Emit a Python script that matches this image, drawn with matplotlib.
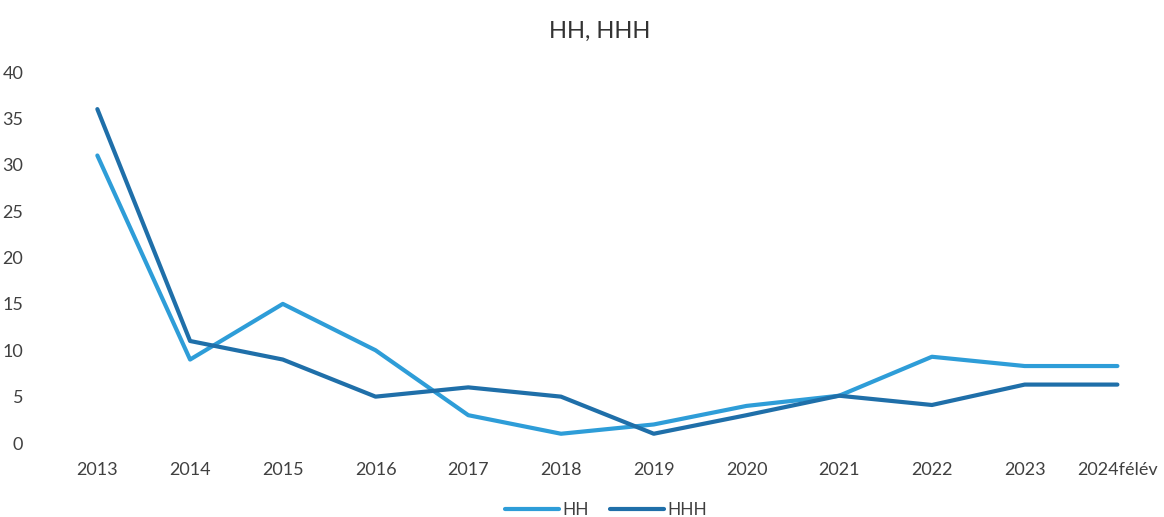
import matplotlib
matplotlib.use("Agg")
import matplotlib.pyplot as plt

# values
years = ["2013", "2014", "2015", "2016", "2017", "2018",
         "2019", "2020", "2021", "2022", "2023", "2024félév"]
hh = [31, 9, 15, 10, 3, 1, 2, 4, 5.1, 9.3, 8.3, 8.3]
hhh = [36, 11, 9, 5, 6, 5, 1, 3, 5.1, 4.1, 6.3, 6.3]

plt.rcParams['font.family'] = ['Lato', 'DejaVu Sans']

fig = plt.figure(figsize=(11.64, 5.17), dpi=100)
ax = fig.add_axes([0.0438, 0.1431, 0.956, 0.7176])

x = list(range(len(years)))
ax.plot(x, hh, color='#2E9DD8', linewidth=3, solid_capstyle='round', label='HH')
ax.plot(x, hhh, color='#1F6FA9', linewidth=3, solid_capstyle='round', label='HHH')

ax.set_xlim(-0.5, len(years) - 0.5)
ax.set_ylim(0, 40)
ax.set_yticks(range(0, 41, 5))
ax.set_xticks(x)
ax.set_xticklabels(years)
ax.tick_params(axis='both', length=0, labelsize=13, colors='#404040')
ax.tick_params(axis='x', pad=14)
ax.tick_params(axis='y', pad=20)
for s in ax.spines.values():
    s.set_visible(False)

fig.text(0.515, 0.94, 'HH, HHH', ha='center', va='center', fontsize=17, color='#333333')

ax.legend(loc='lower center', bbox_to_anchor=(0.499, -0.245), ncol=2, frameon=False,
          fontsize=12.5, handlelength=3.1, handletextpad=0.2, columnspacing=1.2,
          labelcolor='#404040')

fig.savefig('out.png', dpi=100)
